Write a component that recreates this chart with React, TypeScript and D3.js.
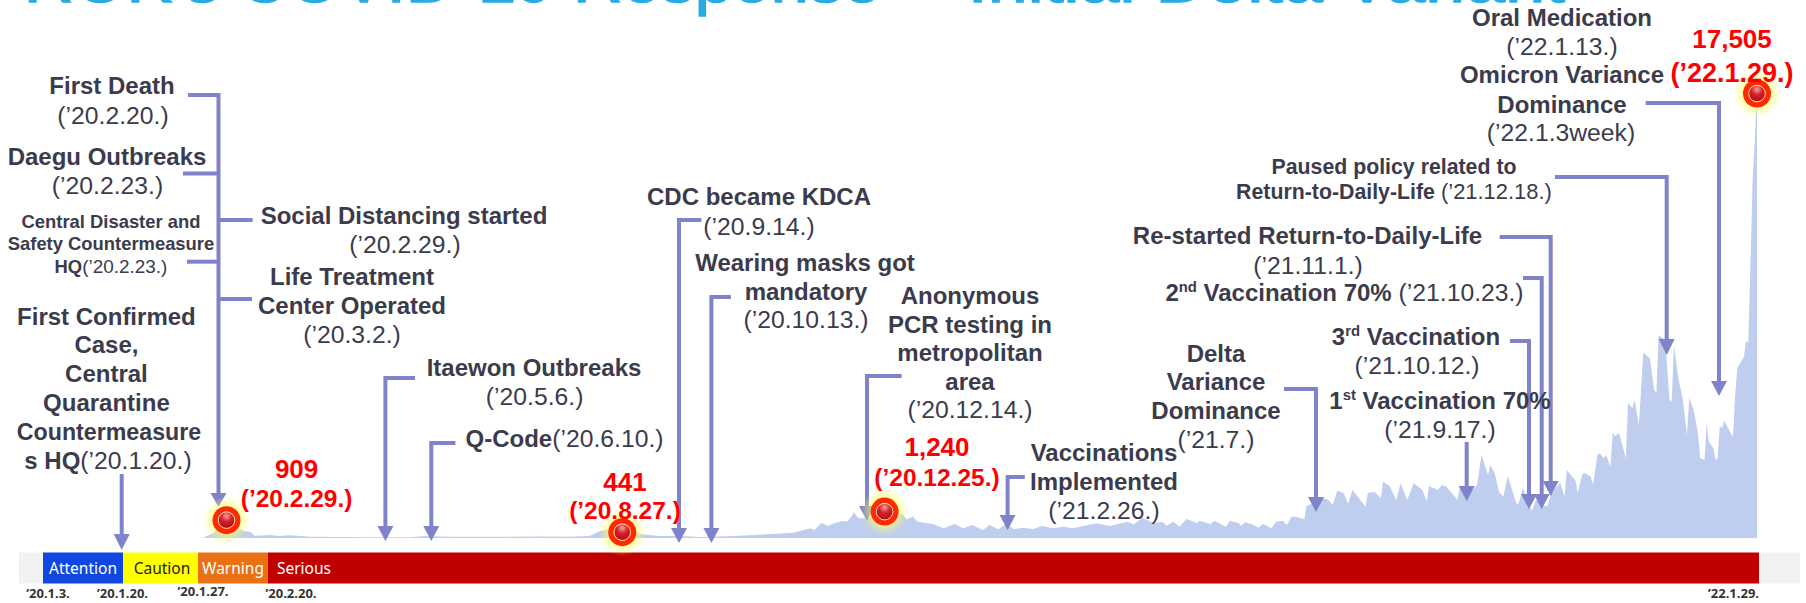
import React, { useEffect, useRef } from "react";
import * as d3 from "d3";

// days since 2020-01-20 (first confirmed case) and daily confirmed cases
const dayOffsets = [
  29, 34, 37, 40, 43, 44, 48, 51, 53, 56, 60, 64, 69, 74, 78, 92, 108, 124, 131, 138, 142, 165, 183, 197, 206, 211, 215, 218, 221, 225, 229, 238, 247, 257,
  261, 272, 287, 299, 304, 307, 309, 312, 315, 317, 321, 324, 326, 327, 329, 333, 337, 341, 343, 345, 349, 351, 354, 356, 363, 368, 373, 377, 381, 386, 389, 393, 397, 400, 404, 409, 413, 418, 423, 427, 438, 444, 452, 455, 459, 464, 468, 470, 473,
  476, 479, 484, 485, 488, 490, 492, 497, 499, 503, 504, 506, 509, 512, 514, 518, 520, 523, 525, 527, 530, 533, 534, 537, 542, 544, 546, 548, 551, 553, 555, 561, 562, 565, 568, 569, 572, 575, 577, 580, 583, 587, 589, 590, 594, 596, 598, 603, 604, 610, 612, 614, 617, 618, 620, 622,
  624, 626, 630, 631, 633, 635, 637, 639, 642, 644, 646, 648, 650, 652, 653, 657, 658, 660, 661, 664, 665, 667, 668, 670, 671, 673, 674, 675, 677, 680, 681, 683, 684, 686, 688, 691, 693, 694, 695, 698, 700, 701, 702, 704, 706, 708, 709, 711, 713, 714, 716, 717, 718, 720, 721, 722, 723, 724, 725, 728, 729, 730, 731, 734, 735, 736, 737, 738, 739, 740,
];
const dailyCases = [
  0, 195, 505, 909, 700, 467, 272, 233, 90, 100, 117, 78, 105, 78, 50, 39, 27, 27, 78, 54, 47, 47, 58, 47, 78, 272, 350, 389, 441, 311, 156, 78, 78, 39,
  50, 78, 144, 206, 311, 377, 311, 595, 467, 545, 650, 650, 856, 1000, 766, 766, 856, 1240, 856, 700, 960, 727, 829, 634, 545, 377, 545, 377, 506, 311, 506, 338, 572, 338, 400, 350, 467, 377, 440, 377, 572, 467, 634, 533, 790, 572, 634, 478, 634,
  440, 739, 572, 673, 595, 545, 673, 440, 673, 572, 467, 611, 533, 400, 545, 377, 634, 673, 506, 829, 805, 727, 1245, 1350, 1544, 1478, 1284, 1840, 1739, 1323, 1867, 1218, 1739, 1800, 1544, 2190, 2023, 1478, 2128, 1478, 2128, 1867, 1412, 2023, 1867, 2062, 1996, 1478, 1945, 1867, 2062, 3229, 2451, 2840, 2529, 1801,
  1607, 2412, 1323, 1350, 1945, 1478, 1062, 1478, 1284, 1218, 1750, 1945, 2151, 1607, 2645, 2229, 1739, 2451, 2540, 2385, 2062, 3229, 3295, 3100, 3229, 2774, 4112, 3968, 4073, 3100, 5240, 5045, 5368, 4396, 7208, 6990, 5757, 5640, 7897, 7702, 5368, 5302, 7508, 6224, 5446, 4007, 5446, 4979, 4085, 3112, 3034, 4435, 3746, 3501, 3034, 3112, 4357, 4279, 4551, 4085, 3929, 5563, 6613, 7041, 7675, 7586, 10581, 13926, 15482, 17505,
];

const peakDays = [40, 221, 341, 740];
const peakCases = [909, 441, 1240, 17505];

const phaseNames = ["", "Attention", "Caution", "Warning", "Serious", ""];
const phaseDates = ["’20.1.3.", "’20.1.20.", "’20.1.27.", "’20.2.20.", "’22.1.29."];

const firstDay = Date.UTC(2020, 0, 20);

const WIDTH = 1806;
const HEIGHT = 603;
const INK = "#3b3b4b";
const ARROW = "#7f83c9";
const BODY = 24;

// layout of the annotations
const B = (t: string) => ({ t, w: "b" });
const R = (t: string) => ({ t, w: "r" });
const S = (t: string) => ({ t, w: "s" });
const L = (x: number, y: number, ...parts: any[]) => ({ x, y, size: BODY, parts });
const LS = (size: number, x: number, y: number, ...parts: any[]) => ({ x, y, size, parts });

const labels = [
  L(112, 93, B("First Death")),
  L(113, 123, R("(’20.2.20.)")),
  L(107, 164, B("Daegu Outbreaks")),
  L(107.5, 193, R("(’20.2.23.)")),
  LS(18.4, 111, 227, B("Central Disaster and")),
  LS(18.4, 111, 249, B("Safety Countermeasure")),
  LS(18.4, 111, 272, B("HQ"), R("(’20.2.23.)")),
  L(404, 223, B("Social Distancing started")),
  L(405, 252, R("(’20.2.29.)")),
  L(352, 284, B("Life Treatment")),
  L(352, 313, B("Center Operated")),
  L(352, 342, R("(’20.3.2.)")),
  L(106.4, 324, B("First Confirmed")),
  L(106.4, 352, B("Case,")),
  L(106.4, 381, B("Central")),
  L(106.4, 410, B("Quarantine")),
  LS(23.2, 109, 439, B("Countermeasure")),
  L(108, 468, B("s HQ"), R("(’20.1.20.)")),
  L(534, 375, B("Itaewon Outbreaks")),
  L(534.6, 404, R("(’20.5.6.)")),
  L(564.5, 446, B("Q-Code"), R("(’20.6.10.)")),
  L(759, 204, B("CDC became KDCA")),
  L(759, 234, R("(’20.9.14.)")),
  L(805, 270, B("Wearing masks got")),
  L(806, 299, B("mandatory")),
  L(806, 327, R("(’20.10.13.)")),
  L(970, 303, B("Anonymous")),
  L(970, 332, B("PCR testing in")),
  L(970, 360, B("metropolitan")),
  L(970, 389, B("area")),
  L(970, 417, R("(’20.12.14.)")),
  L(1104, 460, B("Vaccinations")),
  L(1104, 489, B("Implemented")),
  L(1104, 518, R("(’21.2.26.)")),
  L(1216, 361, B("Delta")),
  L(1216, 389, B("Variance")),
  L(1216, 418, B("Dominance")),
  L(1216, 447, R("(’21.7.)")),
  L(1416, 344, B("3"), S("rd"), B(" Vaccination")),
  L(1417, 373, R("(’21.10.12.)")),
  L(1440, 408, B("1"), S("st"), B(" Vaccination 70%")),
  L(1440, 437, R("(’21.9.17.)")),
  L(1307.5, 243, B("Re-started Return-to-Daily-Life")),
  L(1308, 273, R("(’21.11.1.)")),
  LS(24, 1344.5, 300, B("2"), S("nd"), B(" Vaccination 70%"), R(" (’21.10.23.)")),
  LS(21.3, 1394, 173, B("Paused policy related to")),
  LS(21.3, 1394, 198, B("Return-to-Daily-Life"), R(" (’21.12.18.)")),
  L(1562, 25, B("Oral Medication")),
  L(1562, 54, R("(’22.1.13.)")),
  L(1562, 82, B("Omicron Variance")),
  L(1562, 112, B("Dominance")),
  L(1561, 140, R("(’22.1.3week)")),
];

const peakLabels = [
  { x: 296.6, y: 478, value: "909", dy: 29, size: 24.5, date: "(’20.2.29.)" },
  { x: 625, y: 491, value: "441", dy: 28, size: 24.5, date: "(’20.8.27.)" },
  { x: 937, y: 456, value: "1,240", dy: 30, size: 24.5, date: "(’20.12.25.)" },
  { x: 1732, y: 47.5, value: "17,505", dy: 34, size: 27, date: "(’22.1.29.)" },
];

// polyline with an arrow head at its end: [points], tip y
const arrows = [
  { pts: [[188, 95], [218.5, 95], [218.5, 493]], tip: 507 },
  { pts: [[121.7, 474], [121.7, 534]], tip: 550 },
  { pts: [[415, 378], [385.4, 378], [385.4, 526]], tip: 541 },
  { pts: [[455.4, 443], [431.3, 443], [431.3, 526]], tip: 541 },
  { pts: [[701.4, 220], [679, 220], [679, 528]], tip: 543 },
  { pts: [[731, 297], [711.4, 297], [711.4, 528]], tip: 543 },
  { pts: [[901.6, 376], [867, 376], [867, 506]], tip: 521 },
  { pts: [[1024.8, 477], [1007.6, 477], [1007.6, 515]], tip: 530 },
  { pts: [[1284, 389], [1316, 389], [1316, 497]], tip: 512 },
  { pts: [[1466.7, 442], [1466.7, 486]], tip: 501 },
  { pts: [[1510, 341], [1529, 341], [1529, 494]], tip: 509 },
  { pts: [[1523, 278], [1541.7, 278], [1541.7, 494]], tip: 509 },
  { pts: [[1499.6, 237], [1550.7, 237], [1550.7, 481]], tip: 496 },
  { pts: [[1555, 177], [1666.7, 177], [1666.7, 339]], tip: 355 },
  { pts: [[1645.7, 103], [1719, 103], [1719, 381]], tip: 396 },
];
const branches = [
  [[183, 173.6], [218.5, 173.6]],
  [[187, 261.7], [218.5, 261.7]],
  [[218.5, 220], [252.6, 220]],
  [[218.5, 299], [252, 299]],
];

const phaseEdges = [19, 43, 123, 198, 268, 1759, 1800];
const phaseColors = ["#f2f2f2", "#0f47e0", "#ffff00", "#ea7014", "#c00000", "#f2f2f2"];
const phaseInk = ["#000", "#fff", "#222", "#fff", "#fff", "#000"];
const phaseTextX = [0, 83, 162, 233, 304, 0];
const phaseDateX = [48, 122.5, 203, 291, 1733.5];
const phaseDateY = [598, 598, 596, 598, 598];

export default function App() {
  const svgRef = useRef<SVGSVGElement>(null);

  useEffect(() => {
    const svg = d3.select(svgRef.current);
    svg.selectAll("*").remove();

    const toDate = (d: number) => d3.utcDay.offset(new Date(firstDay), d);

    const x = d3.scaleUtc()
      .domain([toDate(40), toDate(740)])
      .range([226.5, 1757]);
    const y = d3.scaleLinear()
      .domain([0, 17505])
      .range([538, 88]);

    const defs = svg.append("defs");
    const glow = defs.append("radialGradient").attr("id", "glow");
    glow.append("stop").attr("offset", "45%").attr("stop-color", "#ffff66").attr("stop-opacity", 0.75);
    glow.append("stop").attr("offset", "100%").attr("stop-color", "#ffff66").attr("stop-opacity", 0);
    const ball = defs.append("radialGradient").attr("id", "ball").attr("cy", "25%").attr("r", "75%");
    ball.append("stop").attr("offset", "0%").attr("stop-color", "#f4a0a0");
    ball.append("stop").attr("offset", "45%").attr("stop-color", "#d81f26");
    ball.append("stop").attr("offset", "100%").attr("stop-color", "#a80f14");

    // title, cut by the top of the picture
    [
      { t: "ROK's COVID-19 Response", tx: 24, len: 857 },
      { t: "– Initial Delta Variant", tx: 908, len: 657 },
    ].forEach((p) => {
      svg.append("text")
        .attr("x", p.tx)
        .attr("y", 2)
        .attr("textLength", p.len)
        .attr("lengthAdjust", "spacingAndGlyphs")
        .style("font-family", "'Liberation Sans', Arial, sans-serif")
        .style("font-size", "66px")
        .attr("fill", "#29abe2")
        .attr("stroke", "#29abe2")
        .attr("stroke-width", 1.5)
        .text(p.t);
    });

    const area = d3.area<number>()
      .x((d) => x(toDate(d)))
      .y0(y(0))
      .y1((d, i) => y(dailyCases[i]));

    svg.append("path")
      .datum(dayOffsets)
      .attr("d", area)
      .attr("fill", "#bfcdee");

    // alert level bar
    const bar = svg.append("g");
    phaseNames.forEach((name, i) => {
      bar.append("rect")
        .attr("x", phaseEdges[i])
        .attr("y", 552.5)
        .attr("width", phaseEdges[i + 1] - phaseEdges[i])
        .attr("height", 31)
        .attr("fill", phaseColors[i]);
      if (name) {
        bar.append("text")
          .attr("x", phaseTextX[i])
          .attr("y", 574)
          .attr("text-anchor", "middle")
          .attr("fill", phaseInk[i])
          .style("font-family", "'Noto Sans', sans-serif")
          .style("font-size", "15.5px")
          .text(name);
      }
    });
    phaseDates.forEach((d, i) => {
      bar.append("text")
        .attr("x", phaseDateX[i])
        .attr("y", phaseDateY[i])
        .attr("text-anchor", "middle")
        .attr("fill", "#333")
        .style("font-family", "'Noto Sans', sans-serif")
        .style("font-weight", "bold")
        .style("font-size", "13px")
        .text(d);
    });

    // callout lines and arrow heads
    const line = d3.line();
    const arrowG = svg.append("g");
    arrows.forEach((a) => {
      arrowG.append("path")
        .attr("d", line(a.pts as [number, number][]))
        .attr("fill", "none")
        .attr("stroke", ARROW)
        .attr("stroke-width", 4);
      const [hx, hy] = a.pts[a.pts.length - 1];
      arrowG.append("path")
        .attr("d", line([[hx - 8, hy], [hx + 8, hy], [hx, a.tip]]) + "Z")
        .attr("fill", ARROW);
    });
    branches.forEach((b) => {
      arrowG.append("path")
        .attr("d", line(b as [number, number][]))
        .attr("stroke", ARROW)
        .attr("stroke-width", 4);
    });

    // peak markers
    const markers = svg.append("g")
      .selectAll("g")
      .data(peakDays)
      .join("g")
      .attr("transform", (d, i) => `translate(${x(toDate(d))},${y(peakCases[i]) + 5.5})`);
    markers.append("circle").attr("r", 24).attr("fill", "url(#glow)");
    markers.append("circle").attr("r", 14).attr("fill", "#ff2a00");
    markers.append("circle").attr("r", 8.3).attr("fill", "url(#ball)").attr("stroke", "#ffd9c0").attr("stroke-width", 1);

    // annotation text
    const textG = svg.append("g")
      .style("font-family", "'Liberation Sans', Arial, sans-serif")
      .style("white-space", "pre");
    labels.forEach((l) => {
      const t = textG.append("text")
        .attr("x", l.x)
        .attr("y", l.y + 0.7)
        .attr("text-anchor", "middle")
        .attr("fill", INK)
        .style("font-size", `${l.size}px`);
      let lifted = false;
      l.parts.forEach((p: any) => {
        const s = t.append("tspan").text(p.t);
        if (p.w === "b" || p.w === "s") s.style("font-weight", "bold");
        if (p.w === "r") s.style("font-size", `${l.size * 1.03}px`);
        if (p.w === "s") {
          s.style("font-size", `${l.size * 0.62}px`).attr("dy", -l.size * 0.36);
          lifted = true;
        } else if (lifted) {
          s.attr("dy", l.size * 0.36);
          lifted = false;
        }
      });
    });

    peakLabels.forEach((p) => {
      const t = textG.append("g")
        .attr("fill", "#ff0000")
        .attr("text-anchor", "middle")
        .style("font-weight", "bold");
      t.append("text").attr("x", p.x).attr("y", p.y).style("font-size", "26px").text(p.value);
      t.append("text").attr("x", p.x).attr("y", p.y + p.dy).style("font-size", `${p.size}px`).text(p.date);
    });
  }, []);

  return (
    <svg
      ref={svgRef}
      width={WIDTH}
      height={HEIGHT}
      style={{ position: "absolute", left: 0, top: 0, background: "white" }}
    />
  );
}
